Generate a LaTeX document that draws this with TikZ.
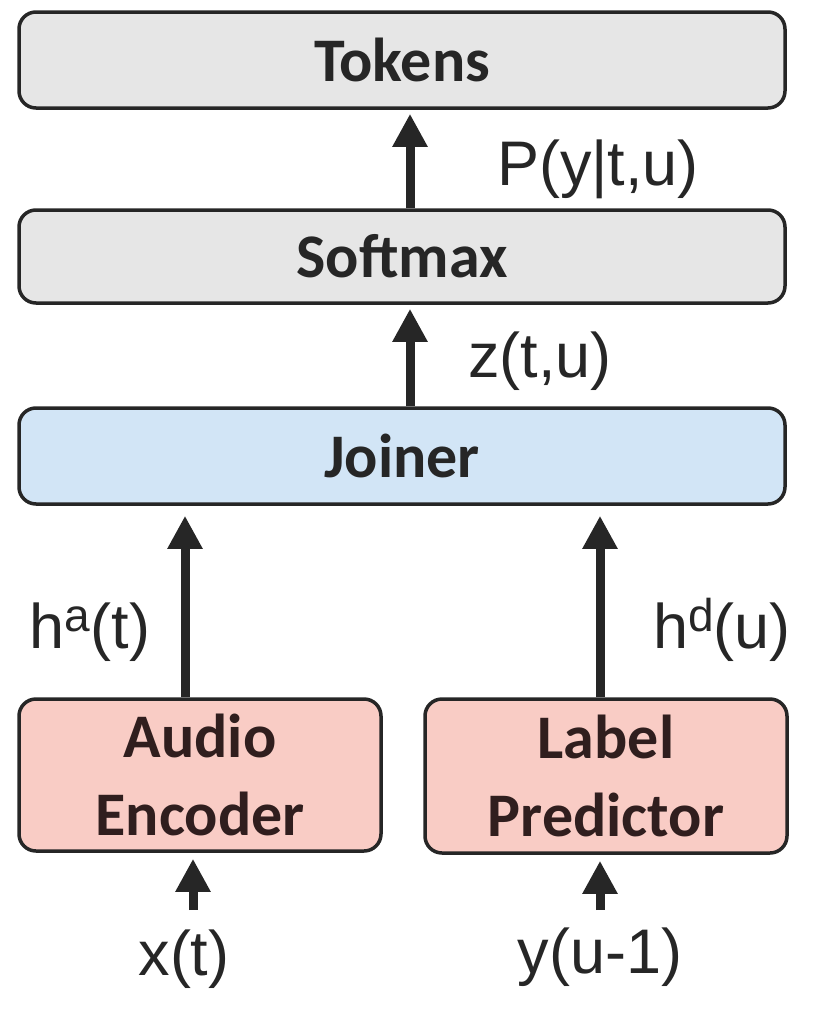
\documentclass[tikz,border=0pt]{standalone}
\usepackage{fontspec}
\setmainfont{Liberation Sans}
\newfontfamily\boxfont{Carlito}
\usetikzlibrary{arrows.meta}
\definecolor{greyfill}{HTML}{E6E6E6}
\definecolor{bluefill}{HTML}{D2E5F6}
\definecolor{pinkfill}{HTML}{F9CCC5}
\definecolor{edgecol}{HTML}{262626}
\definecolor{txtcol}{HTML}{262626}
\definecolor{pinktxt}{HTML}{301E1E}
\tikzset{
  box/.style={draw=edgecol, line width=3.5pt, rounded corners=17pt, inner sep=0pt,
    font=\boxfont\bfseries\fontsize{62}{78}\selectfont, text=txtcol, align=center},
  lbl/.style={anchor=base, inner sep=0pt, text=txtcol, font=\fontsize{63}{63}\selectfont},
  arr/.style={draw=edgecol, line width=9pt, -{Triangle[width=33pt,length=33pt]}},
}
\begin{document}
\begin{tikzpicture}[x=1pt,y=-1pt]
\useasboundingbox (0,0) rectangle (834,1031);
\node[box, fill=greyfill, minimum width=766pt, minimum height=96pt] (tokens) at (402,60) {Tokens};
\node[box, fill=greyfill, minimum width=766pt, minimum height=93pt] (softmax) at (402,256.5) {Softmax};
\node[box, fill=bluefill, minimum width=766pt, minimum height=96pt] (joiner) at (402,456) {Joiner};
\node[box, fill=pinkfill, text=pinktxt, minimum width=362pt, minimum height=152pt] (audio) at (200,775) {Audio\\Encoder};
\node[box, fill=pinkfill, text=pinktxt, minimum width=362pt, minimum height=154pt] (label) at (606,776) {Label\\Predictor};

\node[lbl] (pyt) at (598,185) {P(y|t,u)};
\node[lbl] (ztu) at (540,377) {z(t,u)};
\node[lbl] (ha) at (90,648) {h\raisebox{17pt}{\fontsize{46}{46}\selectfont a}(t)};
\node[lbl] (hd) at (722,648) {h\raisebox{17pt}{\fontsize{46}{46}\selectfont d}(u)};
\node[lbl] (xt) at (184,975) {x(t)};
\node[lbl] (yu) at (600,973) {y(u-1)};

\coordinate (xin) at (193,910);
\coordinate (yin) at (600,910);

\draw[arr, shorten >=4pt] ([xshift=8pt]softmax.north) -- ([xshift=8pt]softmax.north |- tokens.south);
\draw[arr, shorten >=4pt] ([xshift=8pt]joiner.north) -- ([xshift=8pt]joiner.north |- softmax.south);
\draw[arr, shorten >=10pt] ([xshift=-15pt]audio.north) -- ([xshift=-15pt]audio.north |- joiner.south);
\draw[arr, shorten >=10pt] ([xshift=-6pt]label.north) -- ([xshift=-6pt]label.north |- joiner.south);
\draw[arr, shorten >=6pt] (xin) -- (xin |- audio.south);
\draw[arr, shorten >=6pt] (yin) -- (yin |- label.south);
\end{tikzpicture}
\end{document}
